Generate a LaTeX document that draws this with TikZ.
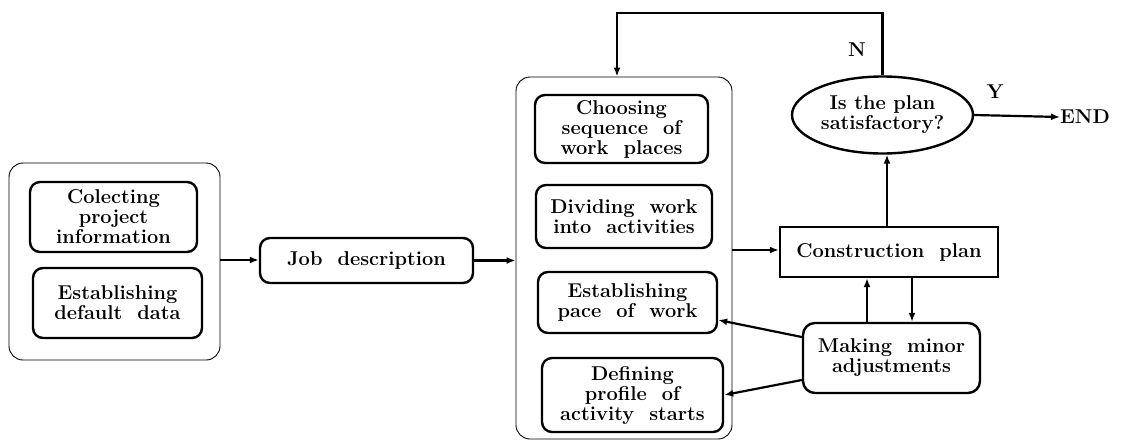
\documentclass[tikz,border=0pt]{standalone}
\usepackage{fontspec}
\usetikzlibrary{arrows.meta,calc,shapes.geometric}
\begin{document}
\begin{tikzpicture}[x=1pt,y=-1pt,
  every node/.style={font=\fontsize{20}{20}\selectfont\bfseries, align=center, inner sep=0pt},
  outerbox/.style={draw, rounded corners=14pt, line width=0.9pt},
  inbox/.style={draw, rounded corners=10pt, line width=2.4pt},
  plainbox/.style={draw, line width=2.4pt},
  arr/.style={line width=2.2pt, -{Latex[length=9pt,width=7pt]}}]
\useasboundingbox (0,0) rectangle (1121,442);
% left group
\node[outerbox, minimum width=211pt, minimum height=197pt] (left) at (114.5,261.5) {};
\node[inbox, minimum width=167pt, minimum height=70pt] (collect) at (113.5,217) {Colecting\\project\\information};
\node[inbox, minimum width=169pt, minimum height=70pt] (default) at (117.5,303) {Establishing\\default\ \ data};
% job
\node[inbox, minimum width=213pt, minimum height=45pt] (job) at (366.5,260.5) {Job\ \ description};
% middle group
\node[outerbox, minimum width=216pt, minimum height=362pt] (mid) at (624,258) {};
\node[inbox, minimum width=173pt, minimum height=68pt] (choose) at (621.5,129) {Choosing\\sequence\ \ of\\work\ \ places};
\node[inbox, minimum width=176pt, minimum height=63pt] (divide) at (624,216.5) {Dividing\ \ work\\into\ \ activities};
\node[inbox, minimum width=179pt, minimum height=61pt] (pace) at (627.5,302.5) {Establishing\\pace\ \ of\ \ work};
\node[inbox, minimum width=181pt, minimum height=74pt] (profile) at (632.5,395) {Defining\\profile\ \ of\\activity\ \ starts};
% right part
\node[draw, ellipse, line width=2.4pt, minimum width=181pt, minimum height=77pt] (ask) at (882.5,115) {Is the plan\\satisfactory?};
\node[plainbox, minimum width=218pt, minimum height=50pt] (cplan) at (889,252) {Construction\ \ plan};
\node[inbox, rounded corners=12pt, minimum width=177pt, minimum height=70pt] (minor) at (891.5,358) {Making\ \ minor\\adjustments};
\node[anchor=west] (end) at (1060,117) {END};
\node (nlab) at (857,50) {N};
\node (ylab) at (995,92) {Y};
% connectors
\draw[arr] (left.east |- 0,260) -- (job.west |- 0,260);
\draw[arr] (job.east) -- (mid.west |- job.east);
\draw[arr] (mid.east |- 0,250) -- (cplan.west |- 0,250);
\draw[arr] (cplan.north -| 887,0) -- (ask.south -| 887,0);
\coordinate (topr) at (ask.north |- 0,13);
\coordinate (topl) at (617,13);
\draw[arr] (ask.north) -- (topr) -- (topl) -- (topl |- mid.north);
\draw[arr] (ask.east) -- (end.west);
\coordinate (up) at (867,0);
\coordinate (dn) at (912,0);
\draw[arr] (up |- minor.north) -- (up |- cplan.south);
\draw[arr] (dn |- cplan.south) -- (dn |- minor.north);
\draw[arr] (minor.west |- 0,337) -- (pace.east |- 0,320);
\draw[arr] (minor.west |- 0,380) -- (profile.east |- 0,395);
\end{tikzpicture}
\end{document}
